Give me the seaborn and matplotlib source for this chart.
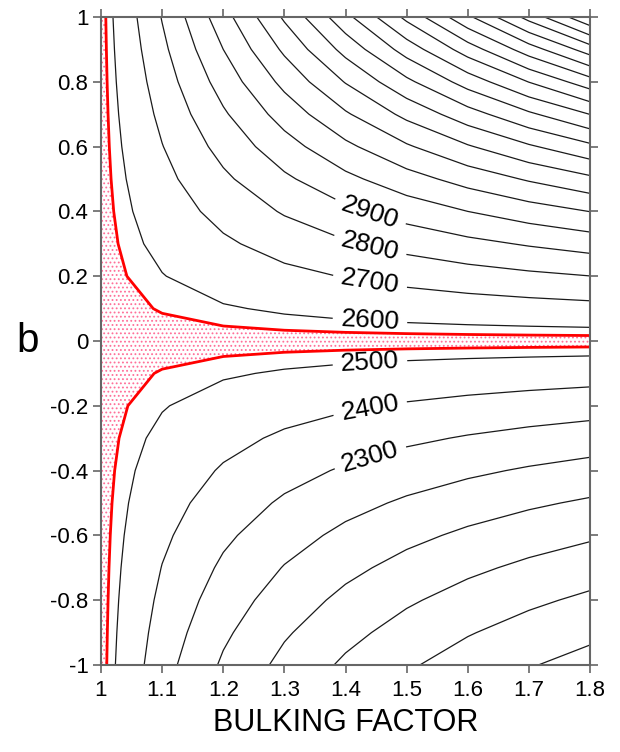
import numpy as np
import matplotlib
matplotlib.use("Agg")
import matplotlib.pyplot as plt
import seaborn as sns

# grid of the contoured field (bulking factor across, b down the rows)
bulking = [1.0, 1.1, 1.2, 1.3, 1.4, 1.5, 1.6, 1.7, 1.8]
b_values = [-1.0, -0.9, -0.8, -0.7, -0.6, -0.5, -0.4, -0.3, -0.2, -0.1, 0.0,
            0.1, 0.2, 0.3, 0.4, 0.5, 0.6, 0.7, 0.8, 0.9, 1.0]
density = [
    [2550, 2337.5, 2185.7, 2071.9, 1983.3, 1912.5, 1854.5, 1806.3, 1765.4],
    [2550, 2357.1, 2217.4, 2111.5, 2028.4, 1961.5, 1906.5, 1860.5, 1821.4],
    [2550, 2377.1, 2250.0, 2152.6, 2075.6, 2013.2, 1961.5, 1918.1, 1881.1],
    [2550, 2397.4, 2283.6, 2195.4, 2125.0, 2067.6, 2019.8, 1979.5, 1944.9],
    [2550, 2418.1, 2318.2, 2239.9, 2176.8, 2125.0, 2081.6, 2044.8, 2013.2],
    [2550, 2439.1, 2353.8, 2286.2, 2231.3, 2185.7, 2147.4, 2114.6, 2086.4],
    [2550, 2460.5, 2390.6, 2334.5, 2288.5, 2250.0, 2217.4, 2189.4, 2165.1],
    [2550, 2482.3, 2428.6, 2384.9, 2348.7, 2318.2, 2292.1, 2269.6, 2250.0],
    [2550, 2504.5, 2467.7, 2437.5, 2412.2, 2390.6, 2372.1, 2356.0, 2341.8],
    [2550, 2527.0, 2508.2, 2492.5, 2479.2, 2467.7, 2457.8, 2449.2, 2441.5],
    [2550, 2550.0, 2550.0, 2550.0, 2550.0, 2550.0, 2550.0, 2550.0, 2550.0],
    [2550, 2573.4, 2593.2, 2610.2, 2625.0, 2637.9, 2649.4, 2659.5, 2668.6],
    [2550, 2597.2, 2637.9, 2673.4, 2704.5, 2732.1, 2756.8, 2778.8, 2798.8],
    [2550, 2621.5, 2684.2, 2739.7, 2789.1, 2833.3, 2873.2, 2909.4, 2942.3],
    [2550, 2646.2, 2732.1, 2809.3, 2879.0, 2942.3, 3000.0, 3052.8, 3101.4],
    [2550, 2671.4, 2781.8, 2882.6, 2975.0, 3060.0, 3138.5, 3211.1, 3278.6],
    [2550, 2697.1, 2833.3, 2959.8, 3077.6, 3187.5, 3290.3, 3386.7, 3477.3],
    [2550, 2723.3, 2886.8, 3041.3, 3187.5, 3326.1, 3457.6, 3582.6, 3701.6],
    [2550, 2750.0, 2942.3, 3127.4, 3305.6, 3477.3, 3642.9, 3802.6, 3956.9],
    [2550, 2777.2, 3000.0, 3218.4, 3432.7, 3642.9, 3849.1, 4051.4, 4250.0],
    [2550, 2805.0, 3060.0, 3315.0, 3570.0, 3825.0, 4080.0, 4335.0, 4590.0],
]

plain_levels = [1800, 1900, 2000, 2100, 2200, 3000, 3100, 3200, 3300, 3400,
                3500, 3600, 3700, 3800, 3900, 4000, 4100, 4200, 4300, 4400,
                4500]
labelled_levels = [2300, 2400, 2500, 2600, 2700, 2800, 2900]
band_levels = [2530, 2570]

x_ticks = [1.0, 1.1, 1.2, 1.3, 1.4, 1.5, 1.6, 1.7, 1.8]
x_ticklabels = ["1", "1.1", "1.2", "1.3", "1.4", "1.5", "1.6", "1.7", "1.8"]
y_ticks = [-1.0, -0.8, -0.6, -0.4, -0.2, 0.0, 0.2, 0.4, 0.6, 0.8, 1.0]
y_ticklabels = ["-1", "-0.8", "-0.6", "-0.4", "-0.2", "0", "0.2", "0.4",
                "0.6", "0.8", "1"]

sns.set_theme(style="white")
plt.rcParams["font.family"] = ["Liberation Sans", "DejaVu Sans"]
plt.rcParams["hatch.linewidth"] = 0.8

X, B = np.meshgrid(bulking, b_values)
Z = np.array(density)

fig = plt.figure(figsize=(6.2, 7.52), dpi=100)
ax = fig.add_axes([101 / 620, 1 - 665 / 752, 489 / 620, 648 / 752])

# dotted band between the two red contours
band = ax.contourf(X, B, Z, levels=band_levels, colors="none", hatches=["...."])
band.set_edgecolor("#ff6f98")  # hatch takes its colour from the edge
band.set_linewidth(0)

ax.contour(X, B, Z, levels=plain_levels, colors="#1a1a1a", linewidths=0.9)
cs = ax.contour(X, B, Z, levels=labelled_levels, colors="#1a1a1a",
                linewidths=0.9)
ax.contour(X, B, Z, levels=band_levels, colors="#ff0000", linewidths=2.0)

# label spots along x ~ 1.44
label_spots = [(1.44, -0.356), (1.44, -0.205), (1.44, -0.066), (1.44, 0.063),
               (1.44, 0.182), (1.44, 0.292), (1.44, 0.395)]
ax.clabel(cs, inline=True, fmt="%d", fontsize=19, inline_spacing=8,
          manual=label_spots, colors="black")

ax.set_xlim(1.0, 1.8)
ax.set_ylim(-1.0, 1.0)
ax.set_xticks(x_ticks)
ax.set_xticklabels(x_ticklabels)
ax.set_yticks(y_ticks)
ax.set_yticklabels(y_ticklabels)
ax.tick_params(direction="out", length=6, width=1.2, color="#666666",
               labelsize=16, labelcolor="black", top=True, right=True,
               bottom=True, left=True)
ax.tick_params(axis="y", pad=3)
ax.tick_params(axis="x", pad=5)
for side in ax.spines.values():
    side.set_color("#666666")
    side.set_linewidth(1.5)

ax.set_xlabel("BULKING FACTOR", fontsize=22, labelpad=5, color="black")
ax.set_ylabel("b", fontsize=29, rotation=0, color="black")
ax.yaxis.set_label_coords(-0.151, 0.5)
ax.yaxis.label.set_verticalalignment("center")

fig.savefig("out.png", dpi=100)
plt.close(fig)
